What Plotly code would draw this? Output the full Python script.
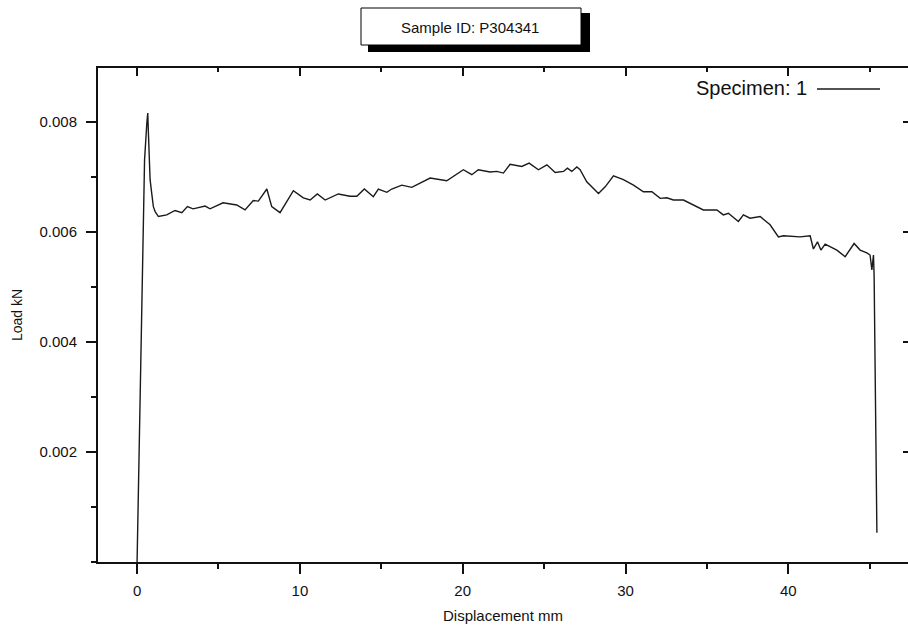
import plotly.graph_objects as go

# ---- data ----
displacement_mm = [0.0, 0.387, 0.46, 0.60, 0.657, 0.69, 0.74, 0.80, 0.90, 1.00, 1.11, 1.31, 1.82, 2.33,
                   2.75, 3.09, 3.44, 4.18, 4.48,
                   5.28, 6.12, 6.63, 7.14, 7.45, 7.97, 8.27, 8.78, 9.60, 10.21, 10.63, 11.07, 11.55,
                   12.36, 13.08, 13.50, 13.96, 14.51, 14.82, 15.34, 15.64, 16.26, 16.87, 18.00, 19.02,
                   20.04, 20.56, 20.96, 21.68, 22.09, 22.50, 22.91, 23.63, 24.08, 24.65, 25.17, 25.68,
                   26.19, 26.43, 26.70, 27.01, 27.21, 27.62, 28.34, 28.75, 29.26, 29.87, 30.49, 31.10,
                   31.62, 32.13, 32.54, 32.94, 33.56, 34.17, 34.78, 35.61, 36.01, 36.32, 36.93, 37.24,
                   37.65, 38.27, 38.88, 39.39, 39.70, 40.72, 41.34, 41.54, 41.79, 42.00, 42.26, 42.98,
                   43.49, 44.04, 44.41, 44.82, 45.02, 45.13, 45.23, 45.27, 45.44]
load_kN = [0.0, 0.00562, 0.00731, 0.00798, 0.00816, 0.00785, 0.00737, 0.00695, 0.00670, 0.00646,
           0.00637, 0.00628, 0.00631, 0.00639, 0.00635,
           0.00646, 0.00642, 0.00647, 0.00642, 0.00653, 0.00649, 0.00640, 0.00657, 0.00656, 0.00678,
           0.00646, 0.00635, 0.00675, 0.00662, 0.00658, 0.00669, 0.00658, 0.00669, 0.00665, 0.00665,
           0.00678, 0.00664, 0.00678, 0.00672, 0.00678, 0.00685, 0.00681, 0.00698, 0.00693, 0.00713,
           0.00704, 0.00713, 0.00709, 0.00710, 0.00707, 0.00723, 0.00719, 0.00725, 0.00713, 0.00722,
           0.00708, 0.00710, 0.00716, 0.00710, 0.00718, 0.00713, 0.00691, 0.00670, 0.00682, 0.00702,
           0.00695, 0.00685, 0.00673, 0.00673, 0.00661, 0.00662, 0.00658, 0.00658, 0.00649, 0.00640,
           0.00640, 0.00631, 0.00634, 0.00619, 0.00631, 0.00625, 0.00628, 0.00613, 0.00591, 0.00593,
           0.00591, 0.00593, 0.00569, 0.00582, 0.00567, 0.00578, 0.00567, 0.00555, 0.00579, 0.00567,
           0.00562, 0.00558, 0.00531, 0.00558, 0.00519, 0.00053]

x_ticks = [0, 10, 20, 30, 40]
x_tick_labels = ["0", "10", "20", "30", "40"]
y_ticks = [0.002, 0.004, 0.006, 0.008]
y_tick_labels = ["0.002", "0.004", "0.006", "0.008"]
x_range = [-2.4, 47.35]
y_range = [0, 0.00898]

title_text = "Sample ID: P304341"
legend_text = "Specimen: 1"
x_title = "Displacement mm"
y_title = "Load kN"

# ---- layout geometry (pixels) ----
W, H = 908, 630
ML, MR, MT, MB = 98, 0, 68, 68
PW, PH = W - ML - MR, H - MT - MB

def px(xp):
    return (xp - ML) / PW

def py(yp):
    return (H - MB - yp) / PH

FONT = "Liberation Sans, Arial, sans-serif"
INK = "#111111"

fig = go.Figure()
fig.add_trace(go.Scatter(x=displacement_mm, y=load_kN, mode="lines",
                         line=dict(color="#1a1a1a", width=1.4), showlegend=False,
                         hoverinfo="x+y"))
# helper trace so the mirrored top/right axes are drawn
fig.add_trace(go.Scatter(x=displacement_mm, y=load_kN, mode="lines", xaxis="x2", yaxis="y2",
                         line=dict(width=0, color="rgba(0,0,0,0)"), showlegend=False,
                         hoverinfo="skip"))

axis_common = dict(showgrid=False, zeroline=False, linecolor=INK, tickcolor=INK,
                   tickfont=dict(family=FONT, size=15, color=INK))

fig.update_layout(
    width=W, height=H,
    margin=dict(l=ML, r=MR, t=MT, b=MB, pad=0),
    paper_bgcolor="white", plot_bgcolor="white",
    font=dict(family=FONT, color=INK),
    xaxis=dict(range=x_range, tickmode="array", tickvals=x_ticks, ticktext=x_tick_labels,
               ticks="outside", ticklen=10, tickwidth=1.5, showline=True, linewidth=2,
               ticklabelstandoff=4,
               minor=dict(ticks="outside", ticklen=5, tickwidth=1.5, tick0=0, dtick=5, tickcolor=INK),
               title=dict(text=x_title, font=dict(family=FONT, size=15, color=INK), standoff=12),
               **axis_common),
    yaxis=dict(range=y_range, tickmode="array", tickvals=y_ticks, ticktext=y_tick_labels,
               ticks="outside", ticklen=10, tickwidth=1.5, showline=True, linewidth=2,
               ticklabelstandoff=6,
               minor=dict(ticks="outside", ticklen=5, tickwidth=1.5, tick0=0, dtick=0.001, tickcolor=INK),
               title=dict(text=y_title, font=dict(family=FONT, size=14, color=INK), standoff=14),
               **axis_common),
    xaxis2=dict(range=x_range, overlaying="x", side="top", anchor="y", tickmode="array",
                tickvals=x_ticks, ticks="inside", ticklen=8, tickwidth=1.5, showline=True,
                linewidth=2, showticklabels=False,
                minor=dict(ticks="inside", ticklen=4, tickwidth=1.5, tick0=0, dtick=5, tickcolor=INK),
                **axis_common),
    yaxis2=dict(range=y_range, overlaying="y", side="right", anchor="x", tickmode="array",
                tickvals=y_ticks, ticks="inside", ticklen=5, tickwidth=1.5, showline=False,
                showticklabels=False, **axis_common),
)

# title box with shadow
fig.add_shape(type="rect", xref="paper", yref="paper",
              x0=px(368), x1=px(590), y0=py(52), y1=py(13),
              fillcolor="black", line=dict(width=0), layer="above")
fig.add_shape(type="rect", xref="paper", yref="paper",
              x0=px(361), x1=px(581), y0=py(45), y1=py(8),
              fillcolor="white", line=dict(color="black", width=1), layer="above")
fig.add_annotation(text=title_text, xref="paper", yref="paper", x=px(470), y=py(27),
                   xanchor="center", yanchor="middle", showarrow=False,
                   font=dict(family=FONT, size=15, color=INK))

# legend (text then line sample on the right)
fig.add_annotation(text=legend_text, xref="paper", yref="paper", x=px(809), y=py(88),
                   xanchor="right", yanchor="middle", showarrow=False,
                   font=dict(family=FONT, size=20, color=INK))
fig.add_shape(type="line", xref="paper", yref="paper",
              x0=px(817), x1=px(880), y0=py(89), y1=py(89),
              line=dict(color="#1a1a1a", width=1.3))

fig.write_html("out.html")
